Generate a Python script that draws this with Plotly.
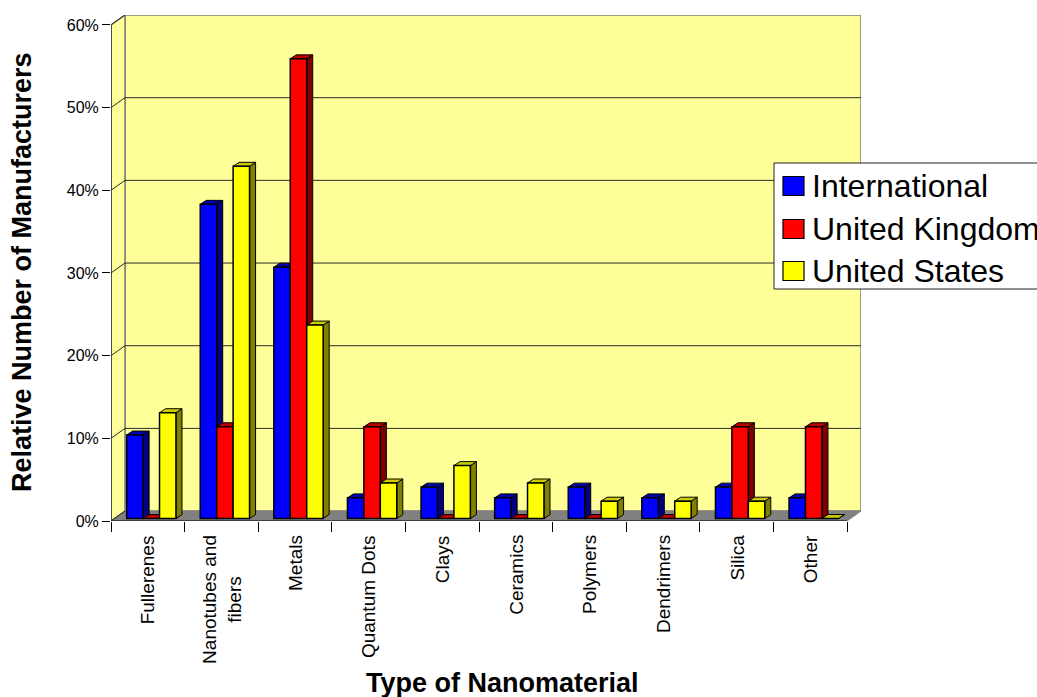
import plotly.graph_objects as go

# ---- data (share of manufacturers, %) ----
categories = ["Fullerenes", "Nanotubes and<br>fibers", "Metals", "Quantum Dots", "Clays",
              "Ceramics", "Polymers", "Dendrimers", "Silica", "Other"]
international = [10.1, 38.0, 30.4, 2.5, 3.8, 2.5, 3.8, 2.5, 3.8, 2.5]
united_kingdom = [0.0, 11.1, 55.6, 11.1, 0.0, 0.0, 0.0, 0.0, 11.1, 11.1]
united_states = [12.8, 42.6, 23.4, 4.3, 6.4, 4.3, 2.1, 2.1, 2.1, 0.0]
y_ticks = [0, 10, 20, 30, 40, 50, 60]

series = [
    ("International", international, "#0000FF", "#0000B0", "#000080"),
    ("United Kingdom", united_kingdom, "#FF0000", "#C00000", "#800000"),
    ("United States", united_states, "#FFFF00", "#CCCC00", "#808000"),
]

FONT = "Arial, 'Liberation Sans', sans-serif"

# ---- pseudo-3D geometry (axis units) ----
W, H = 1037, 697
M_L, M_R, M_T, M_B = 111, 176, 15, 176
X_RANGE = [-0.5, 9.69]
Y_RANGE = [0, 61.2]
DEPTH_X, DEPTH_Y = 0.19, 1.2        # wall depth
BAR_DX, BAR_DY = 0.082, 0.48        # bar depth
BAR_POS = 0.25                      # bars sit a quarter of the way into the box
BARGAP = 0.33
n = len(categories)
x_front = [i for i in range(n)]
y_top = max(y_ticks)

shapes = []


def poly(pts, fill, line_color, width=1.0, layer="below", xref="x", yref="y"):
    path = "M " + " L ".join(f"{x},{y}" for x, y in pts) + " Z"
    shapes.append(dict(type="path", path=path, xref=xref, yref=yref, fillcolor=fill,
                       line=dict(color=line_color, width=width), layer=layer))


def seg(x0, y0, x1, y1, color, width=1.0, layer="below"):
    shapes.append(dict(type="line", x0=x0, y0=y0, x1=x1, y1=y1, xref="x", yref="y",
                       line=dict(color=color, width=width), layer=layer))


left, right = -0.5, n - 0.5
# back wall, side wall and floor
poly([(left + DEPTH_X, DEPTH_Y), (right + DEPTH_X, DEPTH_Y),
      (right + DEPTH_X, y_top + DEPTH_Y), (left + DEPTH_X, y_top + DEPTH_Y)],
     "#FFFF99", "#808080", 1.5)
poly([(left, 0), (left, y_top), (left + DEPTH_X, y_top + DEPTH_Y), (left + DEPTH_X, DEPTH_Y)],
     "#FFFF99", "#808080", 1.5)
poly([(left, 0), (right, 0), (right + DEPTH_X, DEPTH_Y), (left + DEPTH_X, DEPTH_Y)],
     "#808080", "#808080", 1)
# gridlines on the walls
for v in y_ticks[1:-1]:
    seg(left + DEPTH_X, v + DEPTH_Y, right + DEPTH_X, v + DEPTH_Y, "#2A2A2A", 1)
for v in y_ticks:
    seg(left, v, left + DEPTH_X, v + DEPTH_Y, "#2A2A2A", 1)
# front axis lines
seg(left, 0, left, y_top, "#000000", 1)
seg(left, 0, right, 0, "#000000", 1)

# bar faces (top and side) drawn from the data values
bw = (1 - BARGAP) / len(series)
bx0 = BAR_POS * DEPTH_X
by0 = BAR_POS * DEPTH_Y
for k, (name, vals, front, top, side) in enumerate(series):
    for i, v in enumerate(vals):
        xl = x_front[i] + bx0 - (1 - BARGAP) / 2 + k * bw
        xr = xl + bw
        yt = by0 + v
        poly([(xr, by0), (xr, yt), (xr + BAR_DX, yt + BAR_DY), (xr + BAR_DX, by0 + BAR_DY)],
             side, "#000000", 1)
        poly([(xl, yt), (xr, yt), (xr + BAR_DX, yt + BAR_DY), (xl + BAR_DX, yt + BAR_DY)],
             top, "#000000", 1)

fig = go.Figure()
for name, vals, front, top, side in series:
    fig.add_trace(go.Bar(
        name=name,
        x=[x + bx0 for x in x_front],
        y=vals,
        base=[by0] * n,
        marker=dict(color=front, line=dict(color="#000000", width=1.5)),
        showlegend=False,
    ))


# ---- pixel helpers for the paper-anchored items ----
def px_x(p):
    return (p - M_L) / (W - M_L - M_R)


def px_y(p):
    return (H - M_B - p) / (H - M_T - M_B)


annotations = []

# category labels, rotated, lines centred
for i, cat in enumerate(categories):
    annotations.append(dict(text=cat, x=x_front[i], y=px_y(533), xref="x", yref="paper",
                            xanchor="center", yanchor="top", textangle=-90, align="center",
                            showarrow=False, font=dict(family=FONT, size=19, color="#000000")))

# axis titles
annotations.append(dict(text="<b>Type of Nanomaterial</b>", x=px_x(502), y=px_y(683),
                        xref="paper", yref="paper", xanchor="center", yanchor="middle",
                        showarrow=False, font=dict(family=FONT, size=27, color="#000000")))
annotations.append(dict(text="<b>Relative Number of Manufacturers</b>", x=px_x(22), y=px_y(272),
                        xref="paper", yref="paper", xanchor="center", yanchor="middle",
                        textangle=-90, showarrow=False,
                        font=dict(family=FONT, size=27, color="#000000")))

# legend box
poly([(px_x(774), px_y(163)), (px_x(1200), px_y(163)), (px_x(1200), px_y(289)), (px_x(774), px_y(289))],
     "#FFFFFF", "#222222", 1, layer="above", xref="paper", yref="paper")
for (name, vals, front, top, side), cy in zip(series, [186, 229, 271]):
    poly([(px_x(783), px_y(cy - 9.5)), (px_x(804), px_y(cy - 9.5)),
          (px_x(804), px_y(cy + 9.5)), (px_x(783), px_y(cy + 9.5))],
         front, "#000000", 1.2, layer="above", xref="paper", yref="paper")
    annotations.append(dict(text=name, x=px_x(810), y=px_y(cy), xref="paper", yref="paper",
                            xanchor="left", yanchor="middle", showarrow=False,
                            font=dict(family=FONT, size=32, color="#000000")))

fig.update_layout(
    width=W, height=H,
    margin=dict(l=M_L, r=M_R, t=M_T, b=M_B, autoexpand=False),
    paper_bgcolor="#FFFFFF", plot_bgcolor="#FFFFFF",
    barmode="group", bargap=BARGAP, bargroupgap=0,
    shapes=shapes, annotations=annotations,
    font=dict(family=FONT, color="#000000"),
    xaxis=dict(
        range=X_RANGE, showgrid=False, zeroline=False, showline=False,
        tickmode="array", tickvals=x_front, showticklabels=False, ticks="",
        minor=dict(tickmode="linear", tick0=-0.5, dtick=1, ticks="outside",
                   ticklen=10, tickcolor="#000000", tickwidth=1, showgrid=False),
    ),
    yaxis=dict(
        range=Y_RANGE, showgrid=False, zeroline=False, showline=False,
        tickmode="array", tickvals=y_ticks, ticktext=[f"{v}%" for v in y_ticks],
        ticks="outside", ticklen=8, tickcolor="#000000",
        tickfont=dict(size=16, family=FONT),
    ),
)

fig.write_html("out.html")
